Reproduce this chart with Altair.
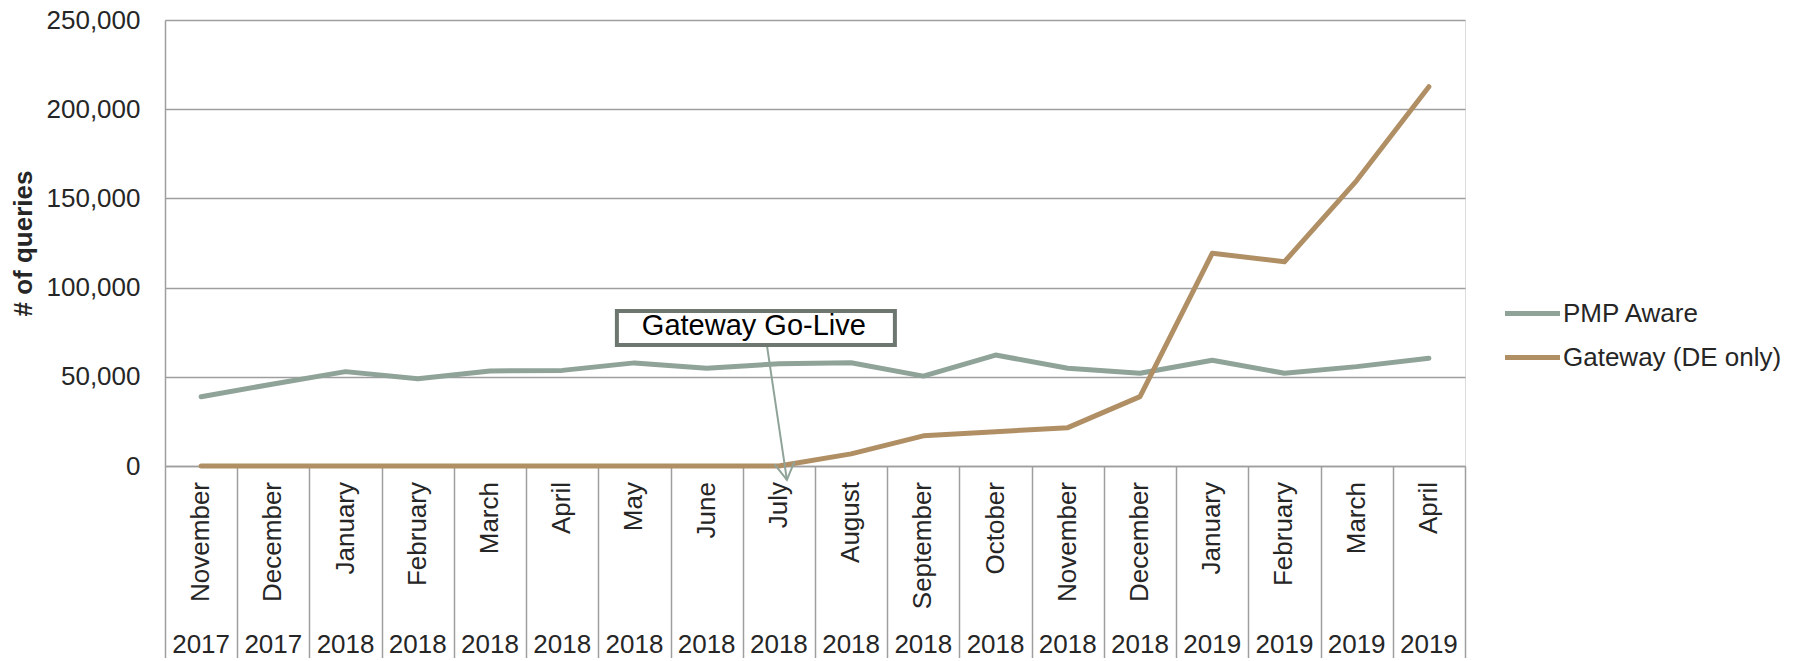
import altair as alt
import pandas as pd

months = ["November", "December", "January", "February", "March", "April", "May", "June",
          "July", "August", "September", "October", "November", "December", "January",
          "February", "March", "April"]
years = ["2017", "2017", "2018", "2018", "2018", "2018", "2018", "2018", "2018", "2018",
         "2018", "2018", "2018", "2018", "2019", "2019", "2019", "2019"]
pmp_aware = [38800, 46000, 52900, 48900, 53300, 53600, 57800, 54800, 57300, 57900,
             50400, 62200, 54800, 52000, 59300, 52000, 55700, 60400]
gateway = [0, 0, 0, 0, 0, 0, 0, 0, 0, 6800, 16900, 19200, 21500, 38900, 119200,
           114500, 160000, 212600]
series_names = ["PMP Aware", "Gateway (DE only)"]
series_colors = ["#8FA398", "#B08F65"]

annot_text = "Gateway Go-Live"
annot_key_idx = 8          # July 2018
annot_box_value = 77300
annot_text_value = 73500
arrow_start_value = 67800
arrow_tip_value = -7800

keys = [f"{y}-{i:02d}" for i, y in enumerate(years)]

rows = []
for k, m, y, a, g in zip(keys, months, years, pmp_aware, gateway):
    rows.append({"key": k, "month": m, "year": y, "series": series_names[0], "value": a})
    rows.append({"key": k, "month": m, "year": y, "series": series_names[1], "value": g})
df = pd.DataFrame(rows)
cats = pd.DataFrame({"key": keys, "month": months, "year": years})

annot = pd.DataFrame({
    "key": [keys[annot_key_idx]],
    "label": [annot_text],
    "box": [annot_box_value],
    "txt": [annot_text_value],
    "a0": [arrow_start_value],
    "a1": [arrow_tip_value],
})

FONT = "Liberation Sans"
TXT = "#262626"
GRID = "#9E9E9E"

xscale = alt.Scale(domain=keys, type="band", paddingInner=0, paddingOuter=0)
yscale = alt.Scale(domain=[0, 250000], nice=False)

x_enc = alt.X("key:N", scale=xscale, bandPosition=0.5,
              axis=alt.Axis(title=None, labels=False, tickBand="extent", tickSize=200,
                            tickColor=GRID, tickWidth=1.5, domainColor=GRID, domainWidth=1.5,
                            grid=False))

lines = alt.Chart(df).mark_line(strokeWidth=5, strokeCap="round", strokeJoin="round").encode(
    x=x_enc,
    y=alt.Y("value:Q", scale=yscale,
            axis=alt.Axis(title="# of queries", values=[0, 50000, 100000, 150000, 200000, 250000],
                          format=",.0f", ticks=False, labelPadding=25, labelFontSize=26,
                          labelFont=FONT, labelColor=TXT, grid=True, gridColor=GRID,
                          gridWidth=1.5, domainColor=GRID, domainWidth=1.5,
                          titleFont=FONT, titleFontSize=26, titleFontWeight="bold",
                          titleColor=TXT, titleAngle=270, titleX=-142, titleY=223,
                          titleAlign="center", titleBaseline="middle")),
    color=alt.Color("series:N", sort=series_names,
                    scale=alt.Scale(domain=series_names, range=series_colors),
                    legend=alt.Legend(title=None, orient="none", legendX=1351, legendY=277,
                                      symbolType="M-2,0H2", symbolSize=756,
                                      symbolStrokeWidth=5, labelOffset=14,
                                      labelFontSize=26, labelFont=FONT, labelColor=TXT,
                                      rowPadding=14, padding=0, labelLimit=400)),
    order=alt.Order("key:N"),
)

month_labels = alt.Chart(cats).mark_text(angle=270, align="right", baseline="middle",
                                         fontSize=26, font=FONT, color=TXT).encode(
    x=alt.X("key:N", scale=xscale, bandPosition=0.5),
    y=alt.value(462),
    text="month:N",
)

year_labels = alt.Chart(cats).mark_text(align="center", baseline="middle",
                                        fontSize=26, font=FONT, color=TXT).encode(
    x=alt.X("key:N", scale=xscale, bandPosition=0.5),
    y=alt.value(625),
    text="year:N",
)

arrow_line = alt.Chart(annot).mark_rule(color="#8FA398", strokeWidth=2,
                                        xOffset=-12, x2Offset=8).encode(
    x=alt.X("key:N", scale=xscale, bandPosition=0.5),
    x2=alt.X2("key:N"),
    y=alt.Y("a0:Q", scale=yscale),
    y2="a1:Q",
)

arrow_head = alt.Chart(annot).mark_point(shape="M-0.59,-1L0,0L0.59,-1", size=1156,
                                         filled=False, stroke="#8FA398", strokeWidth=2,
                                         angle=352, xOffset=8, opacity=1).encode(
    x=alt.X("key:N", scale=xscale, bandPosition=0.5),
    y=alt.Y("a1:Q", scale=yscale),
)

box = alt.Chart(annot).mark_point(shape="M-1,-0.1223H1V0.1223H-1Z", size=77284,
                                  filled=True, fill="white", stroke="#6D776F", strokeWidth=4,
                                  opacity=1, xOffset=-23).encode(
    x=alt.X("key:N", scale=xscale, bandPosition=0.5),
    y=alt.Y("box:Q", scale=yscale),
)

box_text = alt.Chart(annot).mark_text(fontSize=29, font=FONT, color="#000000",
                                      align="center", baseline="alphabetic",
                                      xOffset=-25).encode(
    x=alt.X("key:N", scale=xscale, bandPosition=0.5),
    y=alt.Y("txt:Q", scale=yscale),
    text="label:N",
)

chart = alt.layer(lines, month_labels, year_labels, arrow_line, arrow_head, box, box_text).properties(
    width=1300, height=446,
    autosize=alt.AutoSizeParams(type="none"),
    padding={"left": 157, "top": 12, "right": 325, "bottom": 192},
).configure_view(stroke=None).configure(background="white")

chart.save("out.html", embed_options={"renderer": "svg", "actions": False})
